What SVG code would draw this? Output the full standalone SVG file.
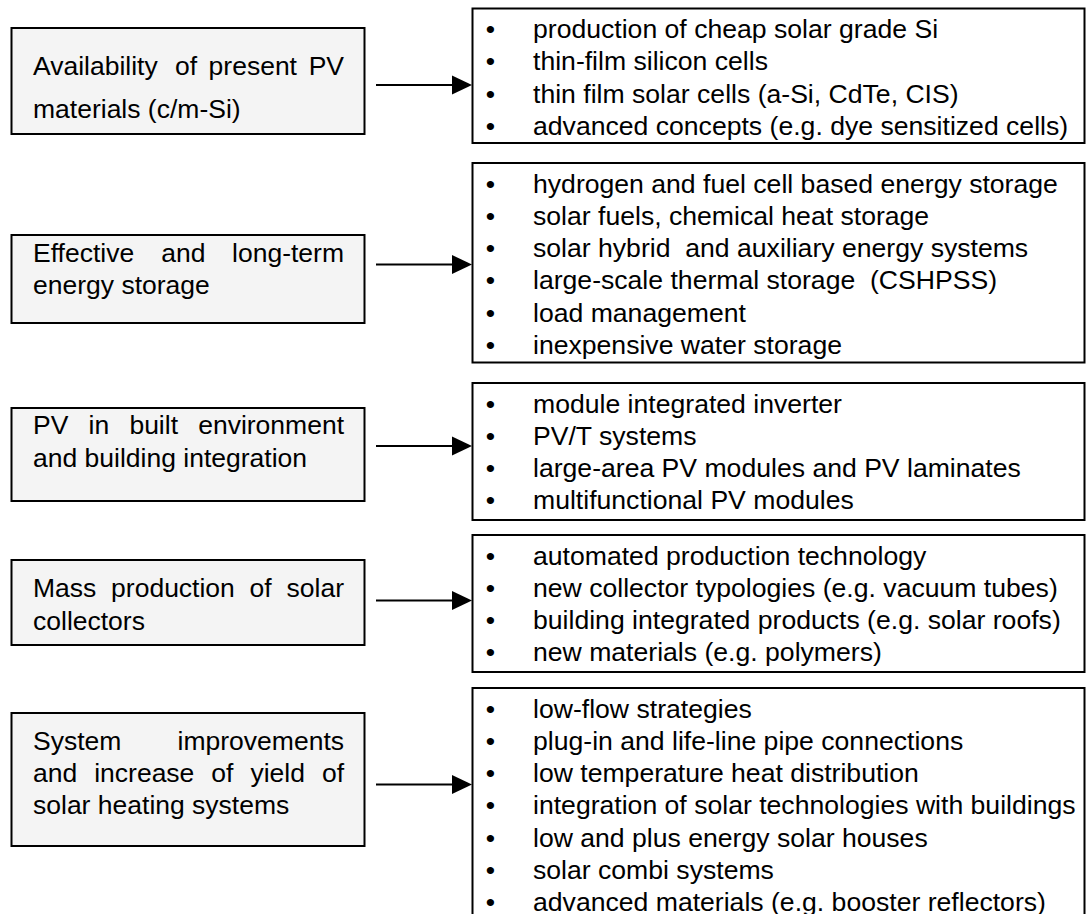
<svg xmlns="http://www.w3.org/2000/svg" width="1087" height="914" viewBox="0 0 1087 914">
<style>
.lbox{fill:#f4f4f4;stroke:#000;stroke-width:2}
.rbox{fill:#fff;stroke:#000;stroke-width:2}
text{font-family:"Liberation Sans",Arial,sans-serif;font-size:26.5px;fill:#000}
.r text{font-size:26.6px}
.end{text-anchor:end}
.r text.bul{text-anchor:middle}
.conn line{stroke:#000;stroke-width:2}
.conn polygon{fill:#000}
</style>
<rect width="1087" height="914" fill="#fff"/>

<g id="left1">
<rect class="lbox" x="11.5" y="28" width="353" height="106"/>
<text x="33" y="75">Availability</text><text x="175" y="75">of</text><text x="208.6" y="75">present</text><text class="end" x="344" y="75">PV</text>
<text x="33" y="118">materials (c/m-Si)</text>
</g>
<g id="left2">
<rect class="lbox" x="11.5" y="235" width="353" height="88"/>
<text x="33" y="262">Effective</text><text x="161.3" y="262">and</text><text class="end" x="344" y="262">long-term</text>
<text x="33" y="294">energy storage</text>
</g>
<g id="left3">
<rect class="lbox" x="11.5" y="408" width="353" height="93"/>
<text x="33" y="434">PV</text><text x="88.6" y="434">in</text><text x="129.4" y="434">built</text><text class="end" x="344" y="434">environment</text>
<text x="33" y="467">and building integration</text>
</g>
<g id="left4">
<rect class="lbox" x="11.5" y="560" width="353" height="85"/>
<text x="33" y="597">Mass</text><text x="111.1" y="597">production</text><text x="249.6" y="597">of</text><text class="end" x="344" y="597">solar</text>
<text x="33" y="630">collectors</text>
</g>
<g id="left5">
<rect class="lbox" x="11.5" y="713" width="353" height="133"/>
<text x="33" y="750">System</text><text class="end" x="344" y="750">improvements</text>
<text x="33" y="782">and</text><text x="94.2" y="782">increase</text><text x="211.3" y="782">of</text><text x="250.4" y="782">yield</text><text class="end" x="344" y="782">of</text>
<text x="33" y="814">solar heating systems</text>
</g>

<g id="right1" class="r">
<rect class="rbox" x="472.5" y="8.5" width="612" height="134.5"/>
<text class="bul" x="490.5" y="38">•</text><text x="533" y="38">production of cheap solar grade Si</text>
<text class="bul" x="490.5" y="70.3">•</text><text x="533" y="70.3">thin-film silicon cells</text>
<text class="bul" x="490.5" y="102.6">•</text><text x="533" y="102.6">thin film solar cells (a-Si, CdTe, CIS)</text>
<text class="bul" x="490.5" y="134.9">•</text><text x="533" y="134.9">advanced concepts (e.g. dye sensitized cells)</text>
</g>
<g id="right2" class="r">
<rect class="rbox" x="472.5" y="163" width="612" height="199.5"/>
<text class="bul" x="490.5" y="192.5">•</text><text x="533" y="192.5">hydrogen and fuel cell based energy storage</text>
<text class="bul" x="490.5" y="224.8">•</text><text x="533" y="224.8">solar fuels, chemical heat storage</text>
<text class="bul" x="490.5" y="257.1">•</text><text x="533" y="257.1" xml:space="preserve">solar hybrid  and auxiliary energy systems</text>
<text class="bul" x="490.5" y="289.4">•</text><text x="533" y="289.4" xml:space="preserve">large-scale thermal storage  (CSHPSS)</text>
<text class="bul" x="490.5" y="321.7">•</text><text x="533" y="321.7">load management</text>
<text class="bul" x="490.5" y="354">•</text><text x="533" y="354">inexpensive water storage</text>
</g>
<g id="right3" class="r">
<rect class="rbox" x="472.5" y="383" width="612" height="137"/>
<text class="bul" x="490.5" y="412.5">•</text><text x="533" y="412.5">module integrated inverter</text>
<text class="bul" x="490.5" y="444.8">•</text><text x="533" y="444.8">PV/T systems</text>
<text class="bul" x="490.5" y="477.1">•</text><text x="533" y="477.1">large-area PV modules and PV laminates</text>
<text class="bul" x="490.5" y="509.4">•</text><text x="533" y="509.4">multifunctional PV modules</text>
</g>
<g id="right4" class="r">
<rect class="rbox" x="472.5" y="535" width="612" height="137"/>
<text class="bul" x="490.5" y="564.5">•</text><text x="533" y="564.5">automated production technology</text>
<text class="bul" x="490.5" y="596.8">•</text><text x="533" y="596.8">new collector typologies (e.g. vacuum tubes)</text>
<text class="bul" x="490.5" y="629.1">•</text><text x="533" y="629.1">building integrated products (e.g. solar roofs)</text>
<text class="bul" x="490.5" y="661.4">•</text><text x="533" y="661.4">new materials (e.g. polymers)</text>
</g>
<g id="right5" class="r">
<rect class="rbox" x="472.5" y="688" width="612" height="240"/>
<text class="bul" x="490.5" y="717.5">•</text><text x="533" y="717.5">low-flow strategies</text>
<text class="bul" x="490.5" y="749.8">•</text><text x="533" y="749.8">plug-in and life-line pipe connections</text>
<text class="bul" x="490.5" y="782.1">•</text><text x="533" y="782.1">low temperature heat distribution</text>
<text class="bul" x="490.5" y="814.4">•</text><text x="533" y="814.4">integration of solar technologies with buildings</text>
<text class="bul" x="490.5" y="846.7">•</text><text x="533" y="846.7">low and plus energy solar houses</text>
<text class="bul" x="490.5" y="879">•</text><text x="533" y="879">solar combi systems</text>
<text class="bul" x="490.5" y="910.5">•</text><text x="533" y="910.5">advanced materials (e.g. booster reflectors)</text>
</g>

<g id="connectors" class="conn">
<line x1="376" y1="85" x2="453" y2="85"/><polygon points="452,75.5 472,85 452,94.5"/>
<line x1="376" y1="264.5" x2="453" y2="264.5"/><polygon points="452,255 472,264.5 452,274"/>
<line x1="376" y1="446" x2="453" y2="446"/><polygon points="452,436.5 472,446 452,455.5"/>
<line x1="376" y1="600.5" x2="453" y2="600.5"/><polygon points="452,591 472,600.5 452,610"/>
<line x1="376" y1="784.5" x2="453" y2="784.5"/><polygon points="452,775 472,784.5 452,794"/>
</g>
</svg>
